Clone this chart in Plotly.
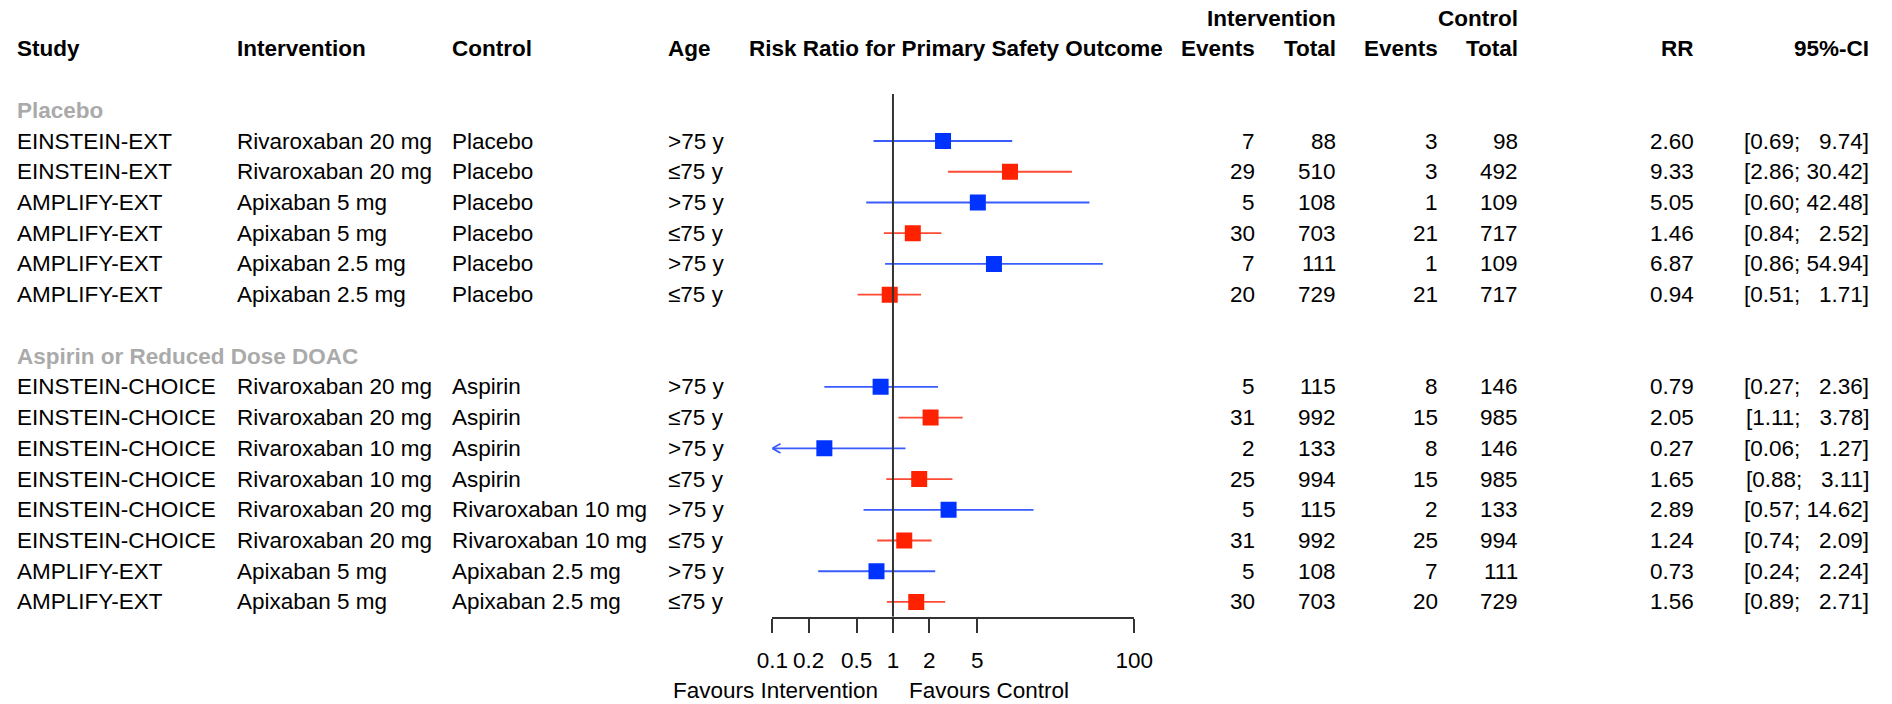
import plotly.graph_objects as go

# ---- data -------------------------------------------------------------
studies = ["EINSTEIN-EXT", "EINSTEIN-EXT", "AMPLIFY-EXT", "AMPLIFY-EXT", "AMPLIFY-EXT", "AMPLIFY-EXT",
           "EINSTEIN-CHOICE", "EINSTEIN-CHOICE", "EINSTEIN-CHOICE", "EINSTEIN-CHOICE",
           "EINSTEIN-CHOICE", "EINSTEIN-CHOICE", "AMPLIFY-EXT", "AMPLIFY-EXT"]
interventions = ["Rivaroxaban 20 mg", "Rivaroxaban 20 mg", "Apixaban 5 mg", "Apixaban 5 mg",
                 "Apixaban 2.5 mg", "Apixaban 2.5 mg",
                 "Rivaroxaban 20 mg", "Rivaroxaban 20 mg", "Rivaroxaban 10 mg", "Rivaroxaban 10 mg",
                 "Rivaroxaban 20 mg", "Rivaroxaban 20 mg", "Apixaban 5 mg", "Apixaban 5 mg"]
controls = ["Placebo"] * 6 + ["Aspirin"] * 4 + ["Rivaroxaban 10 mg"] * 2 + ["Apixaban 2.5 mg"] * 2
ages = [">75 y", "≤75 y"] * 7
events_int = [7, 29, 5, 30, 7, 20, 5, 31, 2, 25, 5, 31, 5, 30]
total_int = [88, 510, 108, 703, 111, 729, 115, 992, 133, 994, 115, 992, 108, 703]
events_ctl = [3, 3, 1, 21, 1, 21, 8, 15, 8, 15, 2, 25, 7, 20]
total_ctl = [98, 492, 109, 717, 109, 717, 146, 985, 146, 985, 133, 994, 111, 729]
rr = [2.60, 9.33, 5.05, 1.46, 6.87, 0.94, 0.79, 2.05, 0.27, 1.65, 2.89, 1.24, 0.73, 1.56]
ci_low = [0.69, 2.86, 0.60, 0.84, 0.86, 0.51, 0.27, 1.11, 0.06, 0.88, 0.57, 0.74, 0.24, 0.89]
ci_high = [9.74, 30.42, 42.48, 2.52, 54.94, 1.71, 2.36, 3.78, 1.27, 3.11, 14.62, 2.09, 2.24, 2.71]

groups = ["Placebo", "Aspirin or Reduced Dose DOAC"]
group_sizes = [6, 8]

tick_vals = [0.1, 0.2, 0.5, 1, 2, 5, 100]
tick_text = ["0.1", "0.2", "0.5", "1", "2", "5", "100"]

# ---- layout constants --------------------------------------------------
W, H = 1892, 704
FONT = "Liberation Sans, Arial, Helvetica, sans-serif"
FS = 22.5
BLUE, BLUE_LINE = "#0033ff", "#3a5cff"
RED, RED_LINE = "#ff2200", "#ff4a33"
GREY = "#aaaaaa"
AXIS = "#333333"

row_top_px, row_pitch = 18.1, 30.73
axis_px = 616.7
x_lo_px, x_hi_px = 772.3, 1134.3
k_top = (0 - row_top_px) / row_pitch
k_bot = (axis_px - row_top_px) / row_pitch

# row slots: 0/1 header, 2 blank, 3 group, 4..9 rows, 10 blank, 11 group, 12..19 rows
row_k = []
group_k = []
k = 3
for name, n in zip(groups, group_sizes):
    group_k.append(k)
    row_k.extend(range(k + 1, k + 1 + n))
    k = k + 1 + n + 1

fig = go.Figure()

# confidence intervals, split by age band colour
for band, col, lcol in [(">75 y", BLUE, BLUE_LINE), ("≤75 y", RED, RED_LINE)]:
    xs, ys = [], []
    mx, my = [], []
    ax, ay = [], []
    for i, a in enumerate(ages):
        if a != band:
            continue
        lo = max(ci_low[i], tick_vals[0])
        xs += [lo, ci_high[i], None]
        ys += [row_k[i], row_k[i], None]
        mx.append(rr[i])
        my.append(row_k[i])
        if ci_low[i] < tick_vals[0]:
            # open arrow head where the interval runs past the axis limit
            step = 10 ** 0.068
            ax += [tick_vals[0] * step, tick_vals[0], tick_vals[0] * step, None]
            ay += [row_k[i] - 0.15, row_k[i], row_k[i] + 0.15, None]
    fig.add_trace(go.Scatter(x=xs, y=ys, mode="lines", line=dict(color=lcol, width=1.8),
                             hoverinfo="skip", showlegend=False))
    if ax:
        fig.add_trace(go.Scatter(x=ax, y=ay, mode="lines", line=dict(color=lcol, width=1.8),
                                 hoverinfo="skip", showlegend=False, cliponaxis=False))
    fig.add_trace(go.Scatter(x=mx, y=my, mode="markers",
                             marker=dict(symbol="square", size=16, color=col,
                                         line=dict(width=0)),
                             showlegend=False))

# line of no effect
fig.add_shape(type="line", xref="x", yref="y", x0=1, x1=1,
              y0=(94 - row_top_px) / row_pitch, y1=k_bot,
              line=dict(color=AXIS, width=2))

ann = []


def txt(x_px, k_row, s, anchor="left", bold=False, color="black", yref="y"):
    ann.append(dict(x=x_px / W, xref="paper", y=k_row, yref=yref, text=s,
                    showarrow=False, xanchor=anchor, yanchor="middle",
                    font=dict(family=FONT, size=FS, color=color,
                              weight="bold" if bold else "normal")))


# column positions (px)
c_study, c_int, c_ctl, c_age = 14.5, 235, 450, 666
c_ev1, c_tot1, c_ev2, c_tot2, c_rr, c_ci = 1257, 1338, 1440, 1520, 1696, 1871

# headers
txt(c_tot1, 0, "Intervention", "right", True)
txt(c_tot2, 0, "Control", "right", True)
txt(c_study, 1, "Study", bold=True)
txt(c_int, 1, "Intervention", bold=True)
txt(c_ctl, 1, "Control", bold=True)
txt(c_age, 1, "Age", bold=True)
txt((x_lo_px + x_hi_px) / 2 + 3, 1, "Risk Ratio for Primary Safety Outcome", "center", True)
txt(c_ev1, 1, "Events", "right", True)
txt(c_tot1, 1, "Total", "right", True)
txt(c_ev2, 1, "Events", "right", True)
txt(c_tot2, 1, "Total", "right", True)
txt(c_rr, 1, "RR", "right", True)
txt(c_ci, 1, "95%-CI", "right", True)

for g, kg in zip(groups, group_k):
    txt(c_study, kg, g, bold=True, color=GREY)

for i, kr in enumerate(row_k):
    txt(c_study, kr, studies[i])
    txt(c_int, kr, interventions[i])
    txt(c_ctl, kr, controls[i])
    txt(c_age, kr, ages[i])
    txt(c_ev1, kr, str(events_int[i]), "right")
    txt(c_tot1, kr, str(total_int[i]), "right")
    txt(c_ev2, kr, str(events_ctl[i]), "right")
    txt(c_tot2, kr, str(total_ctl[i]), "right")
    txt(c_rr, kr, f"{rr[i]:.2f}", "right")
    hi_s = f"{ci_high[i]:.2f}"
    pad = "\u00a0\u00a0" * (5 - len(hi_s))
    txt(c_ci, kr, f"[{ci_low[i]:.2f};\u00a0{pad}{hi_s}]", "right")

# favours labels under the axis
txt(880, (H - 690) / H, "Favours Intervention", "right", yref="paper")
txt(906.7, (H - 690) / H, "Favours Control", "left", yref="paper")

fig.update_layout(
    width=W, height=H,
    margin=dict(l=0, r=0, t=0, b=0, autoexpand=False),
    paper_bgcolor="white", plot_bgcolor="white",
    annotations=ann,
    font=dict(family=FONT, size=FS, color="black"),
    xaxis=dict(type="log", range=[-1, 2],
               domain=[x_lo_px / W, x_hi_px / W],
               showgrid=False, zeroline=False,
               showline=True, linecolor=AXIS, linewidth=2,
               ticks="outside", ticklen=14, tickwidth=2, tickcolor=AXIS,
               tickvals=tick_vals, ticktext=tick_text,
               tickfont=dict(family=FONT, size=FS, color="black"),
               ticklabelstandoff=8),
    yaxis=dict(range=[k_bot, k_top], domain=[(H - axis_px) / H, 1],
               visible=False, showgrid=False, zeroline=False),
)

fig.write_html("out.html")
